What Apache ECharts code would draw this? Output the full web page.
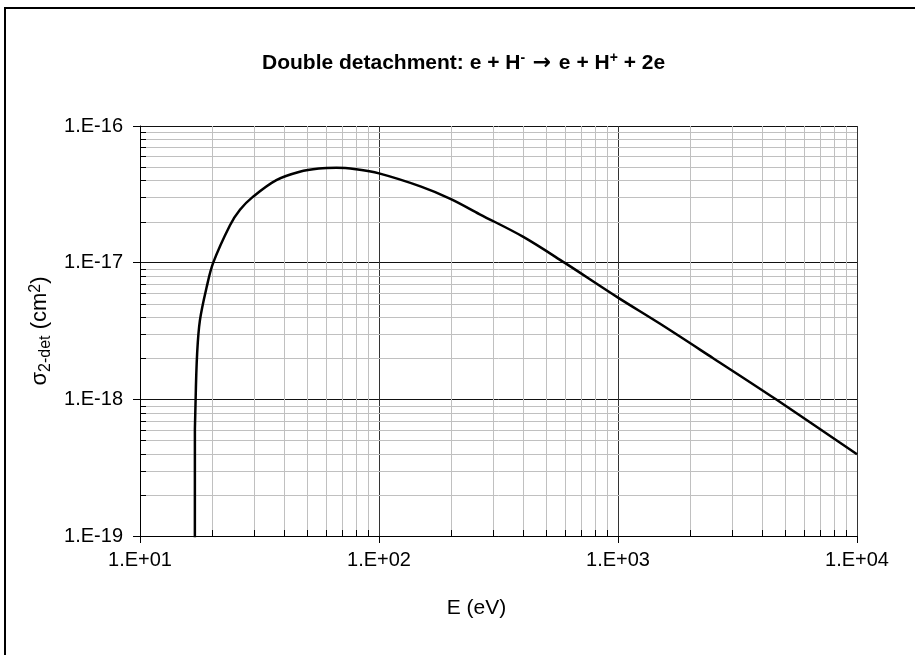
<!DOCTYPE html>
<html>
<head>
<meta charset="utf-8">
<script src="https://cdn.jsdelivr.net/npm/echarts@6/dist/echarts.min.js"></script>
<style>
  html, body { margin: 0; padding: 0; background: #fff; }
  #chart { width: 915px; height: 655px; }
</style>
</head>
<body>
<div id="chart"></div>
<script>
// Double-detachment cross section of H- by electron impact
// Energy in eV, cross section in cm^2
const energy = [16.96, 16.97, 17.09, 17.34, 17.81, 19.0, 20.25, 23.8, 26.2, 29.65, 37.2, 46.6, 56, 66.4, 80, 100, 150, 200, 264, 400, 597, 1000, 1489, 2500, 4580, 10000];
const sigma  = [1e-20, 6.1e-19, 1.0e-18, 2.16e-18, 3.78e-18, 6.6e-18, 1.0e-17, 1.88e-17, 2.44e-17, 3.03e-17, 4.02e-17, 4.63e-17, 4.88e-17, 4.94e-17, 4.82e-17, 4.5e-17, 3.6e-17, 2.92e-17, 2.26e-17, 1.55e-17, 1.0e-17, 5.55e-18, 3.6e-18, 2.0e-18, 1.0e-18, 3.97e-19];

// Axis ticks and their labels
const xTicks = [10, 100, 1000, 10000];
const xTickLabels = ['1.E+01', '1.E+02', '1.E+03', '1.E+04'];
const yTicks = [1e-19, 1e-18, 1e-17, 1e-16];
const yTickLabels = ['1.E-19', '1.E-18', '1.E-17', '1.E-16'];

// Minor (2..9) values inside each decade
const xMinor = [20, 30, 40, 50, 60, 70, 80, 90, 200, 300, 400, 500, 600, 700, 800, 900, 2000, 3000, 4000, 5000, 6000, 7000, 8000, 9000];
const yMinor = [2e-19, 3e-19, 4e-19, 5e-19, 6e-19, 7e-19, 8e-19, 9e-19, 2e-18, 3e-18, 4e-18, 5e-18, 6e-18, 7e-18, 8e-18, 9e-18, 2e-17, 3e-17, 4e-17, 5e-17, 6e-17, 7e-17, 8e-17, 9e-17];

const FONT = "'Liberation Sans', Arial, sans-serif";
const xMin = xTicks[0], xMax = xTicks[xTicks.length - 1];
const yMin = yTicks[0], yMax = yTicks[yTicks.length - 1];

function labelFor(ticks, labels) {
  return function (v) {
    for (let i = 0; i < ticks.length; i++) {
      if (Math.abs(Math.log10(v) - Math.log10(ticks[i])) < 1e-6) return labels[i];
    }
    return '';
  };
}

const pts = energy.map((e, i) => [e, sigma[i]]);
const thresholdPts = pts.slice(0, 3);
const curvePts = pts.slice(2);

const chart = echarts.init(document.getElementById('chart'), null, { renderer: 'canvas' });

chart.setOption({
  animation: false,
  backgroundColor: '#fff',
  textStyle: { fontFamily: FONT },
  title: {
    text: '{b|Double detachment: e + H}{sp|-}{ar| \u2192 }{b|e + H}{sp|+}{b| + 2e}',
    left: 257,
    top: 46,
    textStyle: {
      rich: {
        b: { fontFamily: FONT, fontWeight: 'bold', fontSize: 21, color: '#000', lineHeight: 25 },
        ar: { fontFamily: "'DejaVu Sans', sans-serif", fontSize: 22, color: '#000', lineHeight: 25 },
        sp: { fontFamily: FONT, fontWeight: 'bold', fontSize: 14, color: '#000', verticalAlign: 'top', lineHeight: 15 }
      }
    }
  },
  graphic: [{
    type: 'rect',
    silent: true,
    shape: { x: 5, y: 8, width: 1000, height: 1000 },
    style: { fill: null, stroke: '#000', lineWidth: 2 }
  }],
  grid: { left: 140, right: 58, top: 126, bottom: 119, show: false },
  xAxis: {
    type: 'log',
    logBase: 10,
    min: xMin,
    max: xMax,
    name: 'E (eV)',
    nameLocation: 'middle',
    nameGap: 62,
    nameTextStyle: { fontFamily: FONT, fontSize: 21, color: '#000', padding: [0, 44, 0, 0] },
    axisLine: { show: true, onZero: false, lineStyle: { color: '#000', width: 1 } },
    axisTick: { show: true, inside: false, length: 7, lineStyle: { color: '#000' } },
    axisLabel: { margin: 14, fontFamily: FONT, fontSize: 20, color: '#000', formatter: labelFor(xTicks, xTickLabels) },
    splitLine: { show: true, lineStyle: { color: '#333', width: 1 } },
    minorTick: { show: false },
    minorSplitLine: { show: false }
  },
  yAxis: {
    type: 'log',
    logBase: 10,
    min: yMin,
    max: yMax,
    name: '{s|\u03c3}{sub|2-det}{n| (cm}{sup|2}{n|)}',
    nameLocation: 'middle',
    nameRotate: 90,
    nameGap: 80,
    nameTextStyle: {
      rich: {
        s: { fontFamily: FONT, fontSize: 22, color: '#000', lineHeight: 26 },
        n: { fontFamily: FONT, fontSize: 22, color: '#000', lineHeight: 26 },
        sub: { fontFamily: FONT, fontSize: 16, color: '#000', verticalAlign: 'bottom', lineHeight: 17 },
        sup: { fontFamily: FONT, fontSize: 16, color: '#000', verticalAlign: 'top', lineHeight: 17 }
      }
    },
    axisLine: { show: true, onZero: false, lineStyle: { color: '#000', width: 1 } },
    axisTick: { show: true, inside: false, length: 7, lineStyle: { color: '#000' } },
    axisLabel: { margin: 17, fontFamily: FONT, fontSize: 20, color: '#000', formatter: labelFor(yTicks, yTickLabels) },
    splitLine: { show: true, lineStyle: { color: '#111', width: 1 } },
    minorTick: { show: false },
    minorSplitLine: { show: false }
  },
  series: [
    {
      // light vertical grid lines and inner minor ticks on the energy axis
      type: 'custom',
      silent: true,
      z: 1,
      clip: true,
      data: xMinor.map(v => [v, yMin]),
      renderItem: function (params, api) {
        const v = api.value(0);
        const p0 = api.coord([v, yMin]);
        const p1 = api.coord([v, yMax]);
        const x = Math.round(p0[0]) + 0.5;
        return {
          type: 'group',
          children: [
            { type: 'line', shape: { x1: x, y1: p0[1], x2: x, y2: p1[1] }, style: { stroke: '#c0c0c0', lineWidth: 1 } },
            { type: 'line', shape: { x1: x, y1: p0[1], x2: x, y2: p0[1] - 6 }, style: { stroke: '#000', lineWidth: 1 } }
          ]
        };
      }
    },
    {
      // light horizontal grid lines and inner minor ticks on the cross-section axis
      type: 'custom',
      silent: true,
      z: 1,
      clip: true,
      data: yMinor.map(v => [xMin, v]),
      renderItem: function (params, api) {
        const v = api.value(1);
        const p0 = api.coord([xMin, v]);
        const p1 = api.coord([xMax, v]);
        const y = Math.round(p0[1]) + 0.5;
        return {
          type: 'group',
          children: [
            { type: 'line', shape: { x1: p0[0], y1: y, x2: p1[0], y2: y }, style: { stroke: '#c0c0c0', lineWidth: 1 } },
            { type: 'line', shape: { x1: p0[0], y1: y, x2: p0[0] + 6, y2: y }, style: { stroke: '#000', lineWidth: 1 } }
          ]
        };
      }
    },
    {
      // onset at threshold
      type: 'line',
      data: thresholdPts,
      showSymbol: false,
      symbol: 'none',
      clip: true,
      z: 5,
      lineStyle: { color: '#000', width: 2.5 }
    },
    {
      type: 'line',
      data: curvePts,
      showSymbol: false,
      symbol: 'none',
      smooth: 0.35,
      clip: true,
      z: 5,
      lineStyle: { color: '#000', width: 2.5 }
    }
  ]
});
</script>
</body>
</html>
